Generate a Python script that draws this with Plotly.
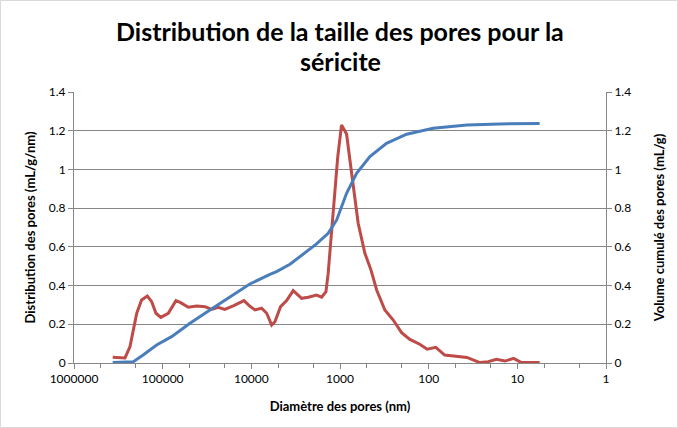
import plotly.graph_objects as go

# Distribution des pores (red, left axis)
dist_diam = [366000, 266000, 234000, 196000, 173000, 149000, 133000, 119000, 105000,
             86500, 70800, 62700, 51400, 41400, 33300, 28100, 23600, 19900, 16000,
             12100, 10500, 9100, 7660, 6710, 5900, 5420, 4680, 4000, 3370, 2710,
             2280, 1840, 1610, 1440, 1360, 1250, 1140, 1060, 960, 843, 773, 710,
             624, 524, 447, 386, 312, 251, 202, 163, 126, 104, 83, 66, 51, 37,
             26.5, 21.3, 17.2, 13.8, 11, 9, 5.6]
dist_vals = [0.030, 0.026, 0.084, 0.257, 0.326, 0.346, 0.317, 0.257, 0.236,
             0.257, 0.322, 0.312, 0.288, 0.295, 0.291, 0.277, 0.288, 0.277, 0.295,
             0.322, 0.295, 0.274, 0.283, 0.257, 0.196, 0.213, 0.291, 0.322, 0.374, 0.334,
             0.340, 0.351, 0.340, 0.369, 0.463, 0.653, 0.877, 1.066, 1.230, 1.183, 1.049, 0.911,
             0.722, 0.567, 0.480, 0.377, 0.274, 0.222, 0.157, 0.122, 0.097, 0.071, 0.081, 0.041, 0.036, 0.029,
             0.002, 0.007, 0.019, 0.010, 0.024, 0.002, 0.002]

# Volume cumulé des pores (blue, right axis)
cum_diam = [366000, 214000, 166000, 117000, 79300, 49200, 29300, 17400, 10400,
            6170, 5190, 3670, 2600, 1840, 1360, 1090, 843, 650, 460, 299, 177,
            89, 37, 15.7, 5.6]
cum_vals = [0.002, 0.007, 0.041, 0.093, 0.136, 0.205, 0.274, 0.343, 0.408,
            0.458, 0.472, 0.510, 0.563, 0.615, 0.670, 0.739, 0.877, 0.980, 1.066, 1.135, 1.182,
            1.213, 1.230, 1.235, 1.237]

x_ticks = [1000000, 100000, 10000, 1000, 100, 10, 1]
x_ticktext = ["1000000", "100000", "10000", "1000", "100", "10", "1"]

title_lines = ["Distribution de la taille des pores pour la", "séricite"]

FONT = "Lato"
BLACK = "#000000"
fig = go.Figure()
fig.add_trace(go.Scatter(x=dist_diam, y=dist_vals, mode="lines",
                         line=dict(color="#BE4B48", width=3), yaxis="y", showlegend=False))
fig.add_trace(go.Scatter(x=cum_diam, y=cum_vals, mode="lines",
                         line=dict(color="#4A7EBB", width=3), yaxis="y2", showlegend=False))

axis_font = dict(family=FONT, size=12, color=BLACK)
title_font = dict(family=FONT, size=13, color=BLACK)
PH = 271.0
fig.update_layout(
    width=678, height=428,
    margin=dict(l=74, r=72, t=92, b=65),
    paper_bgcolor="white", plot_bgcolor="white",
    xaxis=dict(type="log", range=[6, 0], tickvals=x_ticks, ticktext=x_ticktext,
               showgrid=False, showline=True, linecolor="#868686", linewidth=1,
               ticks="outside", ticklen=5, tickcolor="#868686", tickfont=axis_font,
               minor=dict(ticks="outside", ticklen=4, tickcolor="#868686", showgrid=False),
               title=dict(text="<b>Diamètre des pores (nm)</b>", font=title_font, standoff=16),
               zeroline=False),
    yaxis=dict(range=[0, 1.4], dtick=0.2, showgrid=True, gridcolor="#868686", gridwidth=1,
               showline=True, linecolor="#868686", ticks="outside", ticklen=5, tickcolor="#868686",
               tickfont=axis_font, zeroline=False,
               title=dict(text="<b>Distribution des pores (mL/g/nm)</b>", font=title_font, standoff=10)),
    yaxis2=dict(range=[0, 1.4], dtick=0.2, overlaying="y", side="right", showgrid=False,
                showline=True, linecolor="#868686", ticks="outside", ticklen=5, tickcolor="#868686",
                tickfont=axis_font, zeroline=False,
                title=dict(text="<b>Volume cumulé des pores (mL/g)</b>", font=title_font, standoff=24)),
    annotations=[
        dict(text="<b>" + title_lines[0] + "</b>", xref="paper", yref="paper",
             x=0.5, y=(363 - 31) / PH, xanchor="center", yanchor="middle", showarrow=False,
             font=dict(family=FONT, size=25, color=BLACK)),
        dict(text="<b>" + title_lines[1] + "</b>", xref="paper", yref="paper",
             x=0.5, y=(363 - 61) / PH, xanchor="center", yanchor="middle", showarrow=False,
             font=dict(family=FONT, size=25, color=BLACK)),
    ],
    shapes=[dict(type="rect", xref="paper", yref="paper", x0=-73.5/532, x1=1+71.5/532,
                 y0=-64.5/PH, y1=1+91.5/PH, line=dict(color="#D9D9D9", width=1))],
)
fig.write_html("out.html")
